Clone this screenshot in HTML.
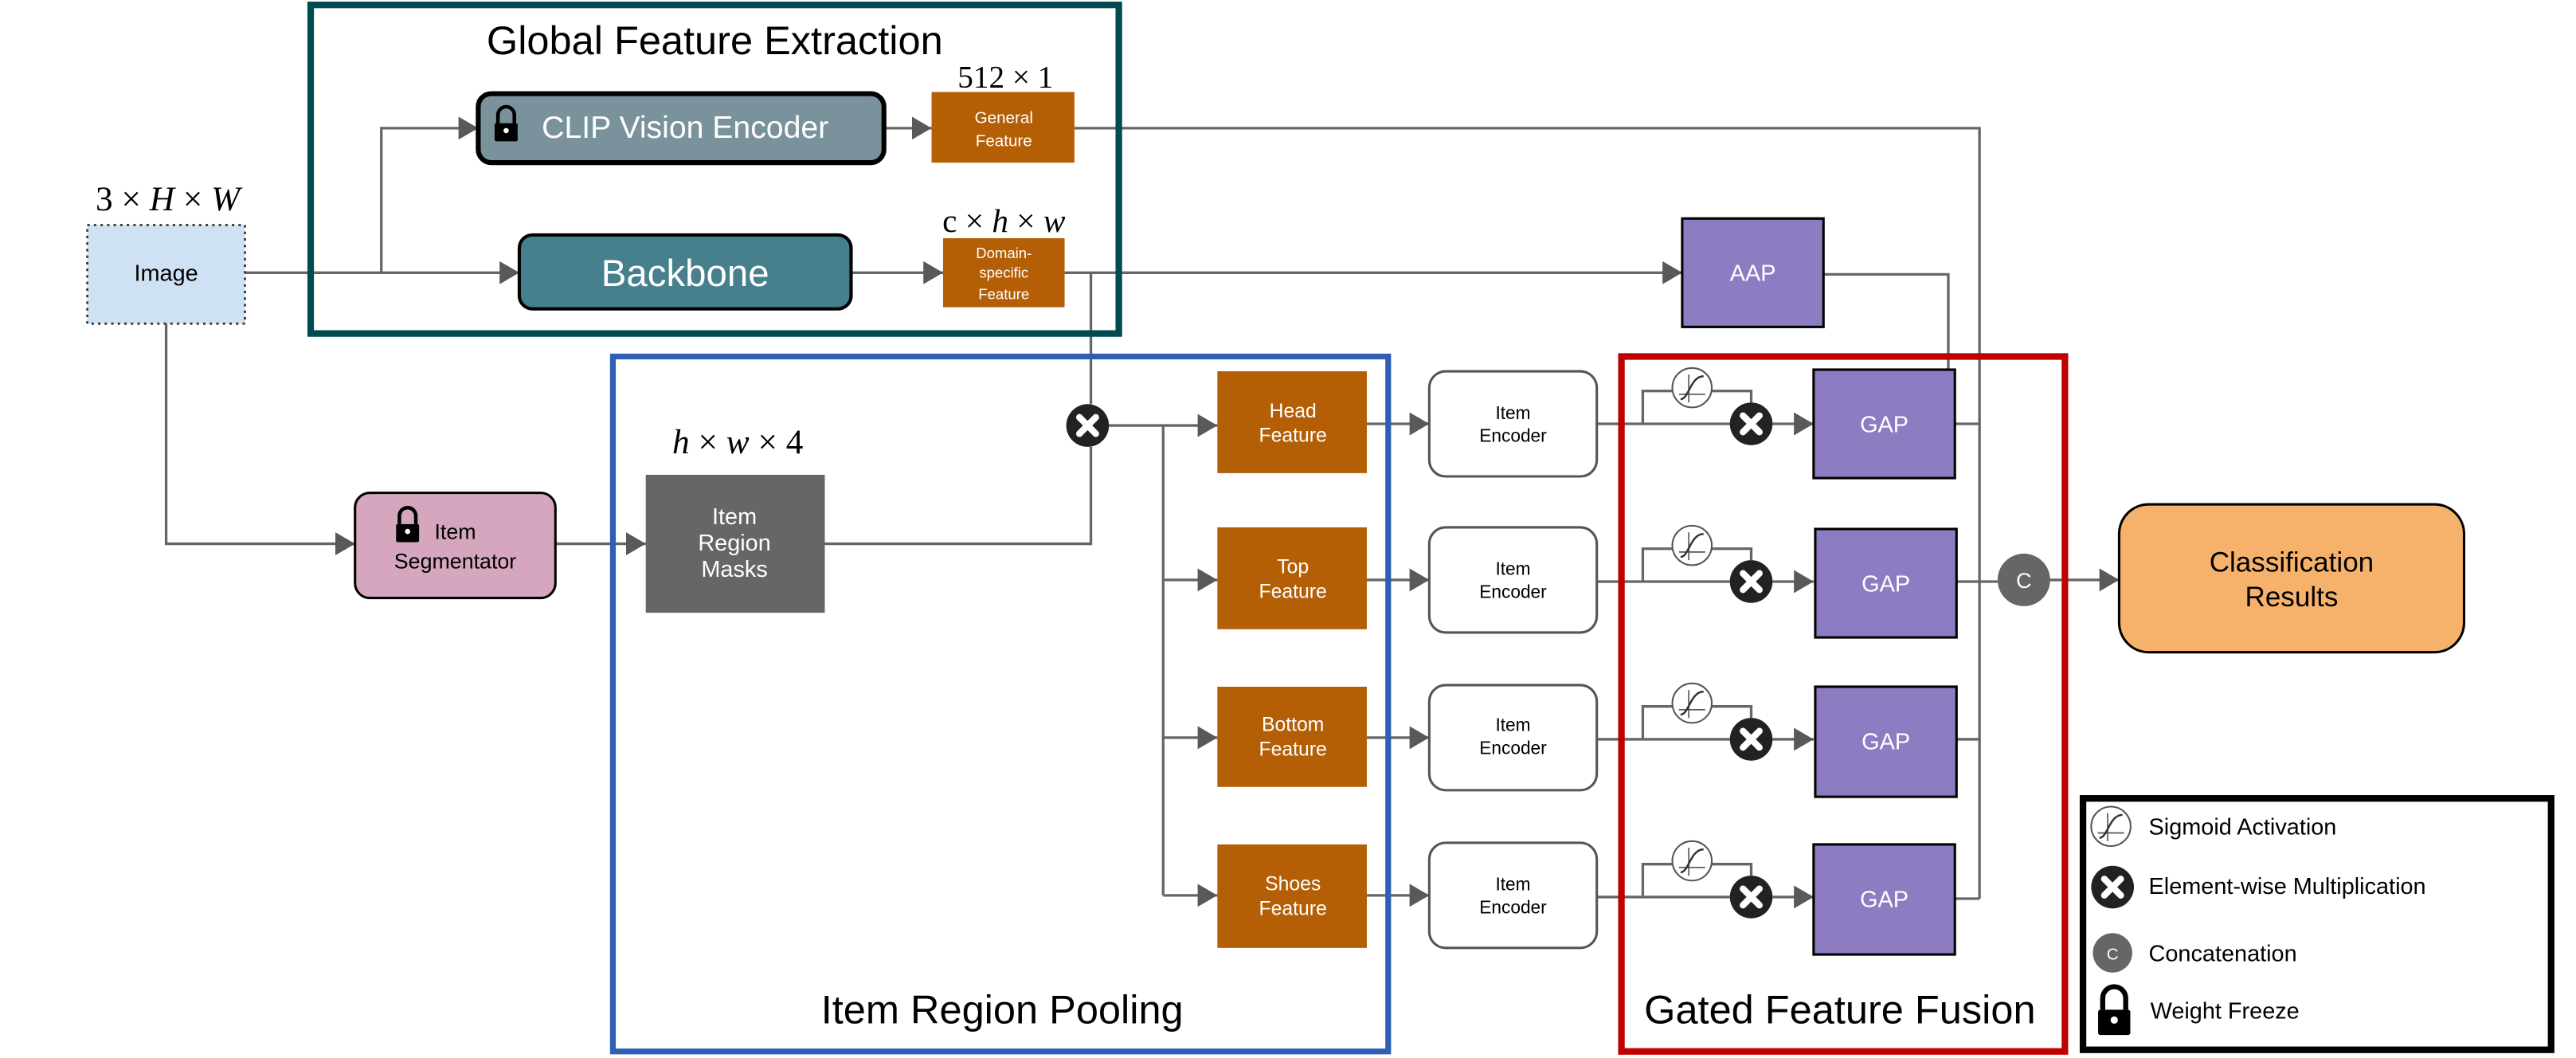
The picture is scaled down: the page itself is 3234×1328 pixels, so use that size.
<!DOCTYPE html>
<html><head><meta charset="utf-8"><style>html,body{margin:0;padding:0;background:#fff}svg{display:block}</style></head>
<body>
<svg width="3234" height="1328" viewBox="0 0 1568 644" xmlns="http://www.w3.org/2000/svg" font-family="Liberation Sans, sans-serif">
<defs>
<marker id="a" markerUnits="userSpaceOnUse" markerWidth="12" markerHeight="14" refX="12" refY="7" orient="auto"><path d="M0,0 L12,7 L0,14 Z" fill="#595959"/></marker>
<g id="mul"><circle r="13" fill="#222"/><path d="M-5,-5 L5,5 M5,-5 L-5,5" stroke="#fff" stroke-width="4" stroke-linecap="round"/></g>
<g id="sig"><circle r="12" fill="#fff" stroke="#555" stroke-width="1"/><path d="M-8,4 L8,4 M-2,-8 L-2,9" stroke="#555" stroke-width="0.8"/><path d="M-7,7 C-2,7 -1,-7 7,-7" fill="none" stroke="#333" stroke-width="1.2"/></g>
<g id="lock"><path d="M-5,-1 V-6 A5,5 0 0 1 5,-6 V-1" fill="none" stroke="#000" stroke-width="2.2"/><rect x="-7" y="-1" width="14" height="11" rx="1" fill="#000"/><circle cx="0" cy="3.5" r="1.6" fill="#fff"/></g>
</defs>
<g fill="none" stroke="#666" stroke-width="1.6">
<path d="M149,166 H316" marker-end="url(#a)"/>
<path d="M232,166 V78 H291" marker-end="url(#a)"/>
<path d="M538,78 H567" marker-end="url(#a)"/>
<path d="M518,166 H574" marker-end="url(#a)"/>
<path d="M654,78 H1205 V547"/>
<path d="M648,166 H1024" marker-end="url(#a)"/>
<path d="M1110,167 H1186 V225"/>
<path d="M664,166 V246"/>
<path d="M101,197 V331 H216" marker-end="url(#a)"/>
<path d="M338,331 H393" marker-end="url(#a)"/>
<path d="M502,331 H664 V272"/>
<path d="M675,259 H741" marker-end="url(#a)"/>
<path d="M708,259 V545"/>
<path d="M708,353 H741" marker-end="url(#a)"/>
<path d="M708,449 H741" marker-end="url(#a)"/>
<path d="M708,545 H741" marker-end="url(#a)"/>
<path d="M832,258 H870" marker-end="url(#a)"/>
<path d="M832,353 H870" marker-end="url(#a)"/>
<path d="M832,449 H870" marker-end="url(#a)"/>
<path d="M832,545 H870" marker-end="url(#a)"/>
<path d="M972,258 H1053 M1000,258 V238 H1018 M1042,238 H1066 V245"/>
<path d="M1079,258 H1104" marker-end="url(#a)"/>
<path d="M972,354 H1053 M1000,354 V334 H1018 M1042,334 H1066 V341"/>
<path d="M1079,354 H1104" marker-end="url(#a)"/>
<path d="M972,450 H1053 M1000,450 V430 H1018 M1042,430 H1066 V437"/>
<path d="M1079,450 H1104" marker-end="url(#a)"/>
<path d="M972,546 H1053 M1000,546 V526 H1018 M1042,526 H1066 V533"/>
<path d="M1079,546 H1104" marker-end="url(#a)"/>
<path d="M1190,258 H1205 M1190,354 H1216 M1190,450 H1205 M1190,547 H1205"/>
<path d="M1248,353 H1290" marker-end="url(#a)"/>
</g>
<rect x="189" y="3" width="492" height="200" fill="none" stroke="#004b50" stroke-width="4"/>
<text x="435" y="33" font-size="24.5" text-anchor="middle">Global Feature Extraction</text>
<rect x="291" y="57" width="247" height="42" rx="8" fill="#7a929c" stroke="#000" stroke-width="3"/>
<use href="#lock" x="308" y="76"/>
<text x="417" y="84" font-size="19" fill="#fff" text-anchor="middle">CLIP Vision Encoder</text>
<rect x="567" y="56" width="87" height="43" fill="#b45f06"/>
<text x="611" y="75" font-size="10" fill="#fff" text-anchor="middle">General</text>
<text x="611" y="89" font-size="10" fill="#fff" text-anchor="middle">Feature</text>
<text x="612" y="53" font-size="19" text-anchor="middle" font-family="Liberation Serif, serif">512 × 1</text>
<rect x="316" y="143" width="202" height="45" rx="8" fill="#45808c" stroke="#000" stroke-width="2"/>
<text x="417" y="174" font-size="23" fill="#fff" text-anchor="middle">Backbone</text>
<rect x="574" y="145" width="74" height="42" fill="#b45f06"/>
<text x="611" y="157" font-size="9" fill="#fff" text-anchor="middle">Domain-</text>
<text x="611" y="169" font-size="9" fill="#fff" text-anchor="middle">specific</text>
<text x="611" y="182" font-size="9" fill="#fff" text-anchor="middle">Feature</text>
<text x="611" y="141" font-size="20" text-anchor="middle" font-family="Liberation Serif, serif" font-style="italic"><tspan font-style="normal">c × </tspan>h<tspan font-style="normal"> × </tspan>w</text>
<rect x="53" y="137" width="96" height="60" fill="#cfe2f3" stroke="#333" stroke-width="1.3" stroke-dasharray="1.5,2.5"/>
<text x="101" y="171" font-size="14" text-anchor="middle">Image</text>
<text x="102" y="128" font-size="21" text-anchor="middle" font-family="Liberation Serif, serif">3 × <tspan font-style="italic">H</tspan> × <tspan font-style="italic">W</tspan></text>
<rect x="1024" y="133" width="86" height="66" fill="#8e7cc3" stroke="#000" stroke-width="1.5"/>
<text x="1067" y="171" font-size="14" fill="#fff" text-anchor="middle">AAP</text>
<rect x="373" y="217" width="472" height="423" fill="none" stroke="#2e5fb4" stroke-width="3.5"/>
<text x="610" y="623" font-size="24.5" text-anchor="middle">Item Region Pooling</text>
<text x="449" y="276" font-size="21" text-anchor="middle" font-family="Liberation Serif, serif"><tspan font-style="italic">h</tspan> × <tspan font-style="italic">w</tspan> × 4</text>
<rect x="393" y="289" width="109" height="84" fill="#666"/>
<text x="447" y="319" font-size="14" fill="#fff" text-anchor="middle">Item</text>
<text x="447" y="335" font-size="14" fill="#fff" text-anchor="middle">Region</text>
<text x="447" y="351" font-size="14" fill="#fff" text-anchor="middle">Masks</text>
<rect x="216" y="300" width="122" height="64" rx="9" fill="#d5a6bd" stroke="#000" stroke-width="1.5"/>
<use href="#lock" x="248" y="320"/>
<text x="277" y="328" font-size="13" text-anchor="middle">Item</text>
<text x="277" y="346" font-size="13" text-anchor="middle">Segmentator</text>
<use href="#mul" x="662" y="259"/>
<g fill="#b45f06"><rect x="741" y="226" width="91" height="62"/><rect x="741" y="321" width="91" height="62"/><rect x="741" y="418" width="91" height="61"/><rect x="741" y="514" width="91" height="63"/></g>
<g font-size="12" fill="#fff" text-anchor="middle">
<text x="787" y="254">Head</text><text x="787" y="269">Feature</text>
<text x="787" y="349">Top</text><text x="787" y="364">Feature</text>
<text x="787" y="445">Bottom</text><text x="787" y="460">Feature</text>
<text x="787" y="542">Shoes</text><text x="787" y="557">Feature</text>
</g>
<g fill="#fff" stroke="#555" stroke-width="1.5"><rect x="870" y="226" width="102" height="64" rx="10"/><rect x="870" y="321" width="102" height="64" rx="10"/><rect x="870" y="417" width="102" height="64" rx="10"/><rect x="870" y="513" width="102" height="64" rx="10"/></g>
<g font-size="11" text-anchor="middle">
<text x="921" y="255">Item</text><text x="921" y="269">Encoder</text>
<text x="921" y="350">Item</text><text x="921" y="364">Encoder</text>
<text x="921" y="445">Item</text><text x="921" y="459">Encoder</text>
<text x="921" y="542">Item</text><text x="921" y="556">Encoder</text>
</g>
<rect x="987" y="217" width="270" height="423" fill="none" stroke="#c00000" stroke-width="4"/>
<text x="1120" y="623" font-size="24.5" text-anchor="middle">Gated Feature Fusion</text>
<use href="#sig" x="1030" y="236"/><use href="#sig" x="1030" y="332"/><use href="#sig" x="1030" y="428"/><use href="#sig" x="1030" y="524"/>
<use href="#mul" x="1066" y="258"/><use href="#mul" x="1066" y="354"/><use href="#mul" x="1066" y="450"/><use href="#mul" x="1066" y="546"/>
<g fill="#8e7cc3" stroke="#000" stroke-width="1.5"><rect x="1104" y="225" width="86" height="66"/><rect x="1105" y="322" width="86" height="66"/><rect x="1105" y="418" width="86" height="67"/><rect x="1104" y="514" width="86" height="67"/></g>
<g font-size="14" fill="#fff" text-anchor="middle">
<text x="1147" y="263">GAP</text><text x="1148" y="360">GAP</text><text x="1148" y="456">GAP</text><text x="1147" y="552">GAP</text>
</g>
<circle cx="1232" cy="353" r="16" fill="#666"/>
<text x="1232" y="358" font-size="13" fill="#fff" text-anchor="middle">C</text>
<rect x="1290" y="307" width="210" height="90" rx="18" fill="#f6b26b" stroke="#000" stroke-width="1.5"/>
<text x="1395" y="348" font-size="17" text-anchor="middle">Classification</text>
<text x="1395" y="369" font-size="17" text-anchor="middle">Results</text>
<rect x="1268" y="486" width="285" height="153" fill="none" stroke="#000" stroke-width="4"/>
<use href="#sig" x="1285" y="503"/>
<text x="1308" y="508" font-size="14">Sigmoid Activation</text>
<use href="#mul" x="1286" y="540"/>
<text x="1308" y="544" font-size="14">Element-wise Multiplication</text>
<circle cx="1286" cy="580" r="12" fill="#666"/>
<text x="1286" y="584" font-size="10" fill="#fff" text-anchor="middle">C</text>
<text x="1308" y="585" font-size="14">Concatenation</text>
<g transform="translate(1287,616) scale(1.4)"><use href="#lock"/></g>
<text x="1309" y="620" font-size="14">Weight Freeze</text>
</svg>
</body></html>
